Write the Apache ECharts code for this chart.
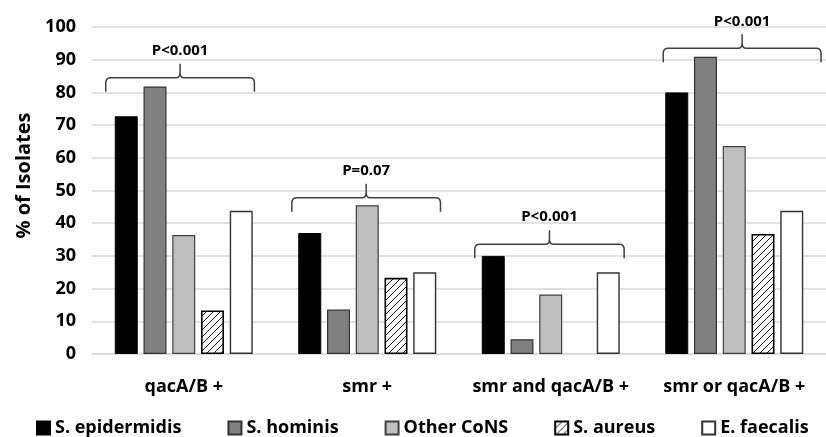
<!DOCTYPE html>
<html><head><meta charset="utf-8">
<script src="https://cdn.jsdelivr.net/npm/echarts@6/dist/echarts.min.js"></script>
<style>html,body{margin:0;padding:0;background:#fff}#c{width:826px;height:437px}</style>
</head><body><div id="c"></div>
<script>
const categories = ['qacA/B +', 'smr +', 'smr and qacA/B +', 'smr or qacA/B +'];
const seriesNames = ['S. epidermidis', 'S. hominis', 'Other CoNS', 'S. aureus', 'E. faecalis'];
const sEpidermidis = [72.7, 37.0, 30.0, 80.0];
const sHominis = [81.8, 13.6, 4.5, 90.9];
const otherCoNS = [36.4, 45.5, 18.2, 63.6];
const sAureus = [13.3, 23.3, 0, 36.7];
const eFaecalis = [43.8, 25.0, 25.0, 43.8];
const yMin = 0, yMax = 100, yStep = 10;
const pValueLabels = ['P<0.001', 'P=0.07', 'P<0.001', 'P<0.001'];
const pBracketLevels = [84.5, 47.8, 33.6, 93.5];

// bracket layout (fractions of category band)
const bracketShift = [-0.02, -0.006, -0.007, 0.043];
const bracketHalf = [0.405, 0.405, 0.407, 0.43];

const FONT = '"Open Sans", "Liberation Sans", sans-serif';

const hc = document.createElement('canvas');
hc.width = 7; hc.height = 7;
const g = hc.getContext('2d');
g.fillStyle = '#fff'; g.fillRect(0, 0, 7, 7);
g.strokeStyle = '#000'; g.lineWidth = 0.9;
g.beginPath();
g.moveTo(0, 7); g.lineTo(7, 0);
g.moveTo(-1, 1); g.lineTo(1, -1);
g.moveTo(6, 8); g.lineTo(8, 6);
g.stroke();
const hatch = { image: hc, repeat: 'repeat' };

const styles = [
  { color: '#000000', borderColor: '#000000', borderWidth: 1 },
  { color: '#808080', borderColor: '#333333', borderWidth: 1.2 },
  { color: '#bfbfbf', borderColor: '#404040', borderWidth: 1.2 },
  { color: hatch, borderColor: '#000000', borderWidth: 1.6 },
  { color: '#ffffff', borderColor: '#333333', borderWidth: 1.4 }
];
const values = [sEpidermidis, sHominis, otherCoNS, sAureus, eFaecalis];

const barSeries = values.map((arr, k) => ({
  name: seriesNames[k],
  type: 'bar',
  barWidth: 23,
  barGap: '25%',
  itemStyle: styles[k],
  data: arr.map(v => v === 0 ? { value: 0, itemStyle: { borderWidth: 0 } } : v),
  z: 2
}));

const bracketSeries = {
  name: 'brackets',
  type: 'custom',
  coordinateSystem: 'cartesian2d',
  silent: true,
  z: 5,
  clip: false,
  data: pBracketLevels.map((lv, i) => [i, lv]),
  renderItem(params, api) {
    const i = api.value(0);
    const p = api.coord([i, api.value(1)]);
    const band = api.size([1, 0])[0];
    const cx = p[0] + bracketShift[i] * band, y = p[1];
    const x0 = cx - bracketHalf[i] * band, x1 = cx + bracketHalf[i] * band;
    const d = 14, r = 5;
    const path = `M${x0} ${y + d} L${x0} ${y + r} Q${x0} ${y} ${x0 + r} ${y} L${cx - 4} ${y} Q${cx} ${y} ${cx} ${y - 5} L${cx} ${y - d} M${cx} ${y - 5} Q${cx} ${y} ${cx + 4} ${y} L${x1 - r} ${y} Q${x1} ${y} ${x1} ${y + r} L${x1} ${y + d}`;
    return {
      type: 'group',
      children: [
        { type: 'path', shape: { pathData: path }, style: { fill: null, stroke: '#404040', lineWidth: 1.5 } },
        { type: 'text', style: { text: pValueLabels[i], x: cx, y: y - d - 13, align: 'center', verticalAlign: 'middle', font: 'bold 15px ' + FONT, fill: '#000' } }
      ]
    };
  }
};

const chart = echarts.init(document.getElementById('c'), null, { renderer: 'canvas' });
chart.setOption({
  animation: false,
  backgroundColor: '#ffffff',
  grid: { left: 92, right: -12, top: 27, bottom: 83, containLabel: false },
  legend: {
    data: seriesNames,
    left: 31,
    top: 414,
    icon: 'rect',
    itemWidth: 13,
    itemHeight: 13,
    itemGap: 46,
    textStyle: { fontFamily: FONT, fontWeight: 'bold', fontSize: 18, color: '#000' }
  },
  xAxis: {
    type: 'category',
    data: categories,
    axisTick: { show: false },
    axisLine: { lineStyle: { color: '#d9d9d9', width: 1.5 } },
    axisLabel: { interval: 0, fontFamily: FONT, fontWeight: 'bold', fontSize: 18, color: '#000', margin: 24 }
  },
  yAxis: {
    type: 'value',
    min: yMin, max: yMax, interval: yStep,
    name: '% of Isolates',
    nameLocation: 'middle',
    nameRotate: 90,
    nameGap: 56,
    nameTextStyle: { fontFamily: FONT, fontWeight: 'bold', fontSize: 20, color: '#000', padding: [0, 0, 0, 30] },
    axisLine: { show: false },
    axisTick: { show: false },
    splitLine: { lineStyle: { color: '#d9d9d9', width: 1.5 } },
    axisLabel: { fontFamily: FONT, fontWeight: 'bold', fontSize: 18, color: '#000', margin: 16 }
  },
  series: [...barSeries, bracketSeries]
});
</script>
</body></html>
